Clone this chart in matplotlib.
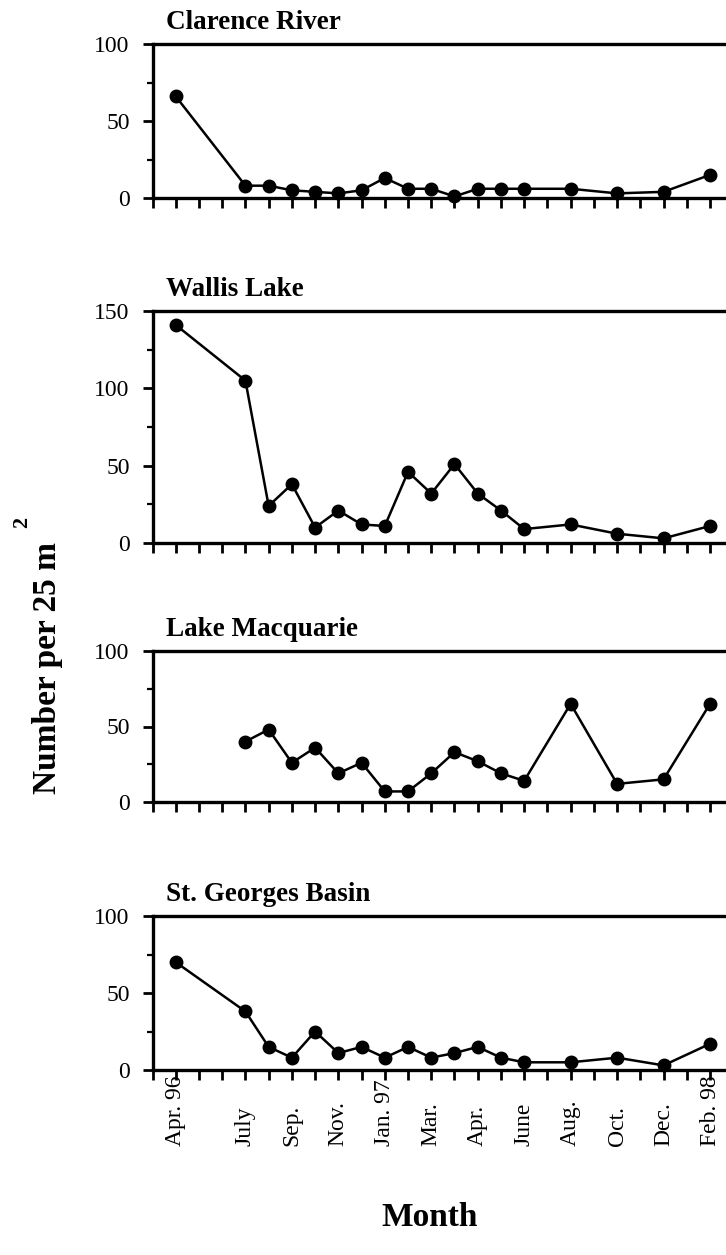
import matplotlib
matplotlib.use("Agg")
import matplotlib.pyplot as plt
from matplotlib.ticker import MultipleLocator

plt.rcParams['font.family'] = ['Liberation Serif', 'DejaVu Serif']

# ---------------- data (x = sampling slot on the month axis) ----------------
tick_slots = list(range(0, 25))
label_slots = [1, 4, 6, 8, 10, 12, 14, 16, 18, 20, 22, 24]
month_labels = ["Apr. 96", "July", "Sep.", "Nov.", "Jan. 97", "Mar.", "Apr.",
                "June", "Aug.", "Oct.", "Dec.", "Feb. 98"]

slots_full = [1, 4, 5, 6, 7, 8, 9, 10, 11, 12, 13, 14, 15, 16, 18, 20, 22, 24]
slots_macq = [4, 5, 6, 7, 8, 9, 10, 11, 12, 13, 14, 15, 16, 18, 20, 22, 24]

clarence = [66, 8, 8, 5, 4, 3, 5, 13, 6, 6, 1, 6, 6, 6, 6, 3, 4, 15]
wallis = [141, 105, 24, 38, 10, 21, 12, 11, 46, 32, 51, 32, 21, 9, 12, 6, 3, 11]
macquarie = [40, 48, 26, 36, 19, 26, 7, 7, 19, 33, 27, 19, 14, 65, 12, 15, 65]
st_georges = [70, 38, 15, 8, 25, 11, 15, 8, 15, 8, 11, 15, 8, 5, 5, 8, 3, 17]

panels = [
    ("Clarence River", slots_full, clarence, 100),
    ("Wallis Lake", slots_full, wallis, 150),
    ("Lake Macquarie", slots_macq, macquarie, 100),
    ("St. Georges Basin", slots_full, st_georges, 100),
]

# panel boxes in pixels from the top: (top, bottom)
W, H = 726, 1255
boxes = [(44, 198), (311, 543), (651, 802), (916, 1070)]
left_px = 152.5
slot_px = 23.23

tick_text = [month_labels[label_slots.index(t)] if t in label_slots else ""
             for t in tick_slots]

fig = plt.figure(figsize=(W / 100, H / 100), dpi=100)

for i, ((title, xs, ys, ymax), (top, bot)) in enumerate(zip(panels, boxes)):
    ax = fig.add_axes([left_px / W, (H - bot) / H, 25 * slot_px / W, (bot - top) / H])
    ax.plot(xs, ys, color='black', lw=1.8, marker='o', ms=9, clip_on=False, zorder=3)
    ax.set_xlim(0, 25)
    ax.set_ylim(0, ymax)
    ax.spines['right'].set_visible(False)
    for s in ['left', 'bottom', 'top']:
        ax.spines[s].set_linewidth(2.4)
    ax.yaxis.set_major_locator(MultipleLocator(50))
    ax.yaxis.set_minor_locator(MultipleLocator(25))
    ax.tick_params(axis='y', which='major', direction='out', length=7.5, width=2,
                   labelsize=17, pad=9)
    ax.tick_params(axis='y', which='minor', direction='out', length=4.5, width=1.6)
    ax.tick_params(axis='x', direction='out', length=7.5, width=2)
    if i == len(panels) - 1:
        ax.set_xticks(tick_slots, labels=tick_text)
        ax.tick_params(axis='x', labelsize=17, pad=47)
        for lab in ax.get_xticklabels():
            lab.set_rotation(90)
            lab.set_va('bottom')
            lab.set_ha('center')
    else:
        ax.set_xticks(tick_slots, labels=[""] * len(tick_slots))
    ax.annotate(title, xy=(0, 1), xycoords='axes fraction', xytext=(10, 11),
                textcoords='offset points', ha='left', va='baseline',
                fontsize=19.5, fontweight='bold')

fig.text(48 / W, 1 - 668 / H, "Number per 25 m", rotation=90,
         ha='center', va='center', fontsize=24, fontweight='bold')
fig.text(22 / W, 1 - 522 / H, "2", rotation=90,
         ha='center', va='center', fontsize=16, fontweight='bold')
fig.text(430 / W, 1 - 1218 / H, "Month", ha='center', va='center',
         fontsize=24, fontweight='bold')

fig.savefig("out.png", dpi=100)
